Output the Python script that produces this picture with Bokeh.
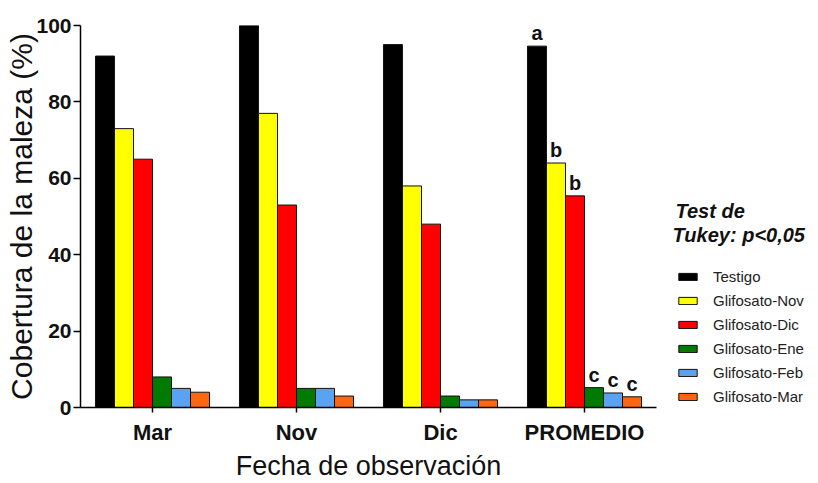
from bokeh.plotting import figure
from bokeh.layouts import row
from bokeh.models import (ColumnDataSource, FactorRange, FixedTicker, Legend, LegendItem, Label, Range1d)
from bokeh.transform import dodge
from bokeh.core.properties import value
from bokeh.embed import file_html
from bokeh.resources import INLINE

categories = ["Mar", "Nov", "Dic", "PROMEDIO"]
series_names = ["Testigo", "Glifosato-Nov", "Glifosato-Dic", "Glifosato-Ene", "Glifosato-Feb", "Glifosato-Mar"]
testigo = [92, 100, 95, 94.6]
glif_nov = [73, 77, 58, 64]
glif_dic = [65, 53, 48, 55.4]
glif_ene = [8, 5, 3, 5.2]
glif_feb = [5, 5, 2, 3.8]
glif_mar = [4, 3, 2, 2.8]
tukey_letters = {
    "Testigo": ["", "", "", "a"],
    "Glifosato-Nov": ["", "", "", "b"],
    "Glifosato-Dic": ["", "", "", "b"],
    "Glifosato-Ene": ["", "", "", "c"],
    "Glifosato-Feb": ["", "", "", "c"],
    "Glifosato-Mar": ["", "", "", "c"],
}
y_ticks = [0, 20, 40, 60, 80, 100]
legend_title_1 = "Test de"
legend_title_2 = "Tukey: p<0,05"

colors = ["#000000", "#FFFF00", "#FF0000", "#007A00", "#5AA3F2", "#FF6614"]
values = [testigo, glif_nov, glif_dic, glif_ene, glif_feb, glif_mar]

FONT = "Liberation Sans"
INK = "#111111"

p = figure(x_range=FactorRange(factors=categories, range_padding=0),
           y_range=Range1d(0, 100), width=658, height=483,
           output_backend="svg", toolbar_location=None,
           min_border_left=80, min_border_right=2, min_border_top=25, min_border_bottom=75)
p.outline_line_color = None
p.xgrid.grid_line_color = None
p.ygrid.grid_line_color = None

w = 0.132
for i, (name, vals, col) in enumerate(zip(series_names, values, colors)):
    src = ColumnDataSource(dict(cat=categories, val=vals, lab=tukey_letters[name]))
    off = (i - 2.5) * w
    p.vbar(x=dodge("cat", off, range=p.x_range), top="val", bottom=0, width=w,
           source=src, fill_color=col, line_color=INK, line_width=1)
    p.text(x=dodge("cat", off, range=p.x_range), y="val", text="lab", source=src,
           text_align="center", text_baseline="bottom", y_offset=-2,
           text_font=value(FONT), text_font_style="bold", text_font_size="20px",
           text_color=INK)

ya = p.yaxis[0]
ya.ticker = FixedTicker(ticks=y_ticks)
ya.minor_tick_line_color = None
ya.major_tick_out = 7
ya.major_tick_in = 0
ya.axis_line_width = 1.5
ya.major_tick_line_width = 1.5
ya.major_label_text_font = FONT
ya.major_label_text_font_style = "bold"
ya.major_label_text_font_size = "21px"
ya.major_label_standoff = 2
ya.major_label_text_color = INK
ya.axis_label = "Cobertura de la maleza (%)"
ya.axis_label_text_font = FONT
ya.axis_label_text_font_style = "normal"
ya.axis_label_text_font_size = "30px"
ya.axis_label_standoff = -5
ya.axis_label_text_color = INK

xa = p.xaxis[0]
xa.major_tick_out = 5
xa.major_tick_in = 0
xa.axis_line_width = 1.5
xa.major_tick_line_width = 1.5
xa.major_label_text_font = FONT
xa.major_label_text_font_style = "bold"
xa.major_label_text_font_size = "22px"
xa.major_label_standoff = 7
xa.major_label_text_color = INK
xa.axis_label = "Fecha de observación"
xa.axis_label_text_font = FONT
xa.axis_label_text_font_style = "normal"
xa.axis_label_text_font_size = "27px"
xa.axis_label_standoff = 3
xa.axis_label_text_color = INK

# Legend panel (frame aligned vertically with the main plot frame)
p2 = figure(width=160, height=483, x_range=Range1d(0, 160), y_range=Range1d(0, 100),
            output_backend="svg", toolbar_location=None,
            x_axis_location=None, y_axis_location=None,
            min_border_left=0, min_border_right=0, min_border_top=25, min_border_bottom=75)
p2.outline_line_color = None
p2.xgrid.grid_line_color = None
p2.ygrid.grid_line_color = None

items = []
for name, col in zip(series_names, colors):
    proxy = ColumnDataSource(dict(x=[0], top=[0]))
    r = p2.vbar(x="x", top="top", width=1, source=proxy, fill_color=col,
                line_color=INK, line_width=1, visible=False)
    items.append(LegendItem(label=name, renderers=[r]))

legend = Legend(items=items, location=(18, 1), padding=0, margin=0,
                glyph_width=23, glyph_height=9, label_height=20, label_standoff=14,
                spacing=4, border_line_color=None, background_fill_alpha=0,
                label_text_font=FONT, label_text_font_size="15px", label_text_color="#222222")
p2.add_layout(legend, "center")

p2.add_layout(Label(x=17, y=51.4, text=legend_title_1, text_font=FONT,
                    text_font_style="bold italic", text_font_size="20px",
                    text_baseline="middle", text_align="left", text_color=INK))
p2.add_layout(Label(x=14, y=45.2, text=legend_title_2, text_font=FONT,
                    text_font_style="bold italic", text_font_size="20px",
                    text_baseline="middle", text_align="left", text_color=INK))

layout = row(p, p2, spacing=0)
open("out.html", "w").write(file_html(layout, INLINE))
